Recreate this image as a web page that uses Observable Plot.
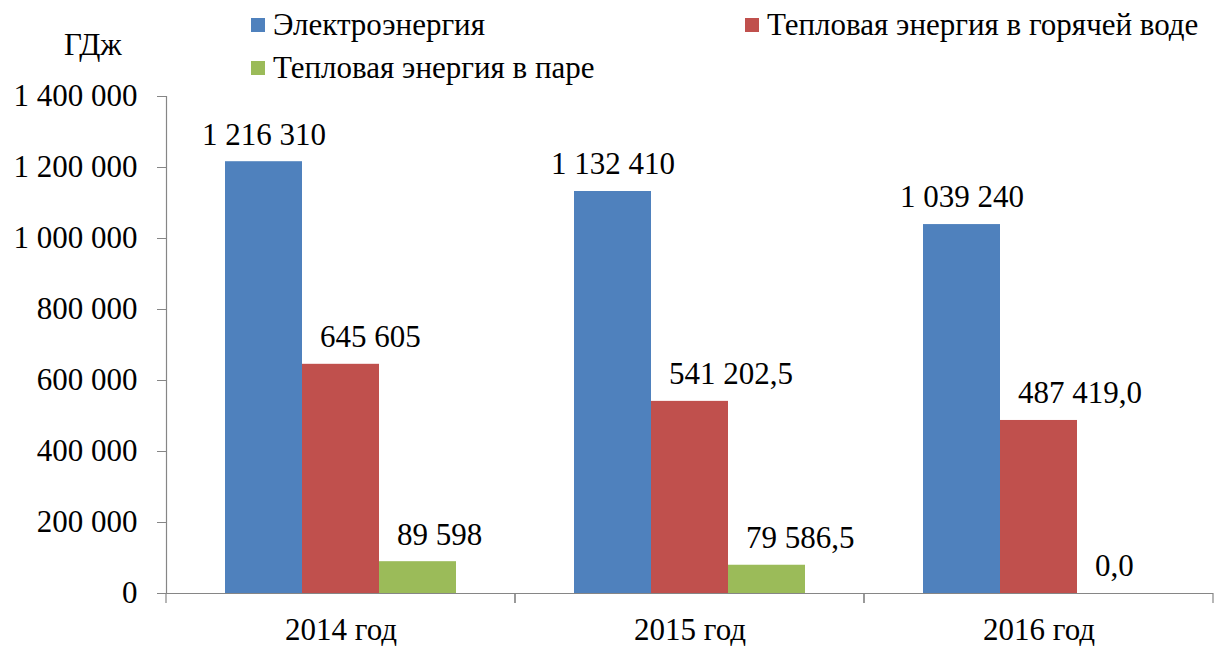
<!DOCTYPE html>
<html><head><meta charset="utf-8">
<script src="https://cdn.jsdelivr.net/npm/d3@7"></script>
<script src="https://cdn.jsdelivr.net/npm/@observablehq/plot@0.6"></script>
<style>
body{margin:0;background:#fff;}
#wrap{position:relative;width:1215px;height:646px;font-family:"Liberation Serif","DejaVu Serif","Times New Roman",Times,serif;}
#wrap svg{position:absolute;left:0;top:0;}
.item{position:absolute;display:flex;align-items:center;font-size:31px;color:#000;white-space:nowrap;line-height:32px;height:32px;}
.sw{width:14px;height:14px;margin-right:8px;flex:none;}
.unit{position:absolute;font-size:31px;line-height:32px;color:#000;}
</style></head><body><div id="wrap"></div>
<script>
const years = ["2014 год", "2015 год", "2016 год"];
const series = ["Электроэнергия", "Тепловая энергия в горячей воде", "Тепловая энергия в паре"];
const electricity = [1216310, 1132410, 1039240];
const hotWater = [645605, 541202.5, 487419.0];
const steam = [89598, 79586.5, 0];
const electricityLabels = ["1 216 310", "1 132 410", "1 039 240"];
const hotWaterLabels = ["645 605", "541 202,5", "487 419,0"];
const steamLabels = ["89 598", "79 586,5", "0,0"];
const yTicks = [0, 200000, 400000, 600000, 800000, 1000000, 1200000, 1400000];
const colors = ["#4F81BD", "#C0504D", "#9BBB59"];
const unitLabel = "ГДж";

const valueSets = [electricity, hotWater, steam];
const labelSets = [electricityLabels, hotWaterLabels, steamLabels];
const data = years.flatMap((year, i) => series.map((s, j) => ({
  year, series: s, value: valueSets[j][i], label: labelSets[j][i]
})));
const centeredLabels = data.filter(d => d.series === series[0]);
const shiftedLabels = data.filter(d => d.series !== series[0]);

const axisColor = "#868686";
const font = '"Liberation Serif","DejaVu Serif","Times New Roman",Times,serif';
const fontSize = 31;
const fmt = d => d3.format(",")(d).replace(/,/g, " ");

function categoryTicks(index, scales, values, dimensions) {
  const {width, height, marginLeft, marginRight, marginBottom} = dimensions;
  const yb = height - marginBottom;
  const g = d3.create("svg:g").attr("stroke", axisColor).attr("stroke-width", 1.2);
  for (const x of [marginLeft, width - marginRight]) {
    g.append("line").attr("x1", x).attr("x2", x).attr("y1", yb).attr("y2", yb + 10);
  }
  return g.node();
}

const plot = Plot.plot({
  width: 1215, height: 646,
  marginLeft: 166, marginRight: 2, marginTop: 96, marginBottom: 53,
  style: {fontFamily: font, fontSize: fontSize + "px", color: "#000", background: "transparent", overflow: "visible"},
  fx: {domain: years, paddingInner: 0, paddingOuter: 0, label: null},
  x: {domain: series, paddingInner: 0, paddingOuter: 0.745, axis: null},
  y: {domain: [0, 1400000]},
  color: {domain: series, range: colors},
  marks: [
    Plot.barY(data, {fx: "year", x: "series", y: "value", fill: "series"}),
    Plot.ruleY([0], {stroke: axisColor, strokeWidth: 1.2}),
    Plot.frame({anchor: "left", facetAnchor: "left", stroke: axisColor, strokeWidth: 1.2}),
    categoryTicks,
    Plot.axisY({ticks: yTicks, tickFormat: fmt, tickSize: 9, tickPadding: 20, stroke: axisColor, fill: "#000", fontSize, fontFamily: font, label: null}),
    Plot.axisFx({anchor: "bottom", tickSize: 0, tickPadding: 24, fontSize, fontFamily: font, label: null, fill: "#000"}),
    Plot.text(centeredLabels, {fx: "year", x: "series", y: "value", text: "label", dy: -27, fill: "#000", fontSize, fontFamily: font}),
    Plot.text(shiftedLabels, {fx: "year", x: "series", y: "value", text: "label", textAnchor: "start", dx: -21, dy: -27, fill: "#000", fontSize, fontFamily: font})
  ]
});

const wrap = document.getElementById("wrap");
wrap.appendChild(plot);

const legendPos = [[251, 9], [745, 9], [251, 52]];
series.forEach((s, i) => {
  const item = document.createElement("div");
  item.className = "item";
  item.style.left = legendPos[i][0] + "px";
  item.style.top = legendPos[i][1] + "px";
  const sw = document.createElement("span");
  sw.className = "sw";
  sw.style.background = plot.scale("color").apply(s);
  item.appendChild(sw);
  item.appendChild(document.createTextNode(s));
  wrap.appendChild(item);
});
const unit = document.createElement("div");
unit.className = "unit";
unit.style.left = "64px";
unit.style.top = "29px";
unit.textContent = unitLabel;
wrap.appendChild(unit);
</script></body></html>
